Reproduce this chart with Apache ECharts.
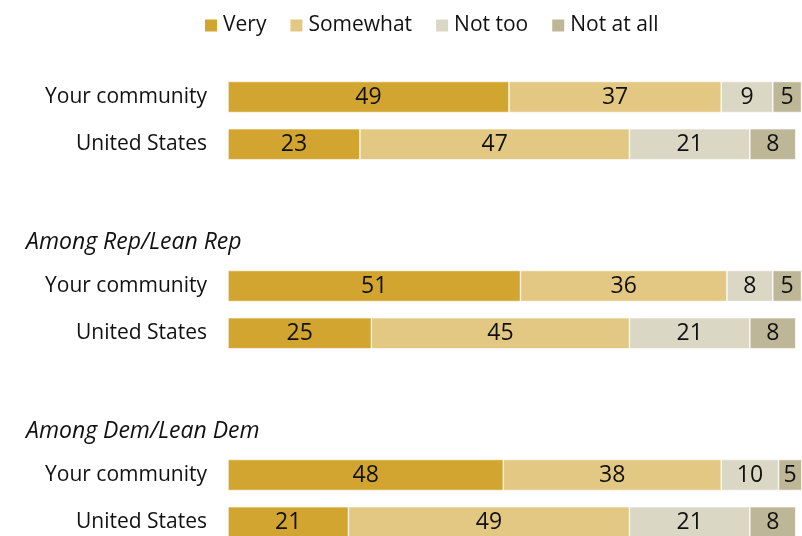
<!DOCTYPE html>
<html><head><meta charset="utf-8">
<script src="https://cdn.jsdelivr.net/npm/echarts@6/dist/echarts.min.js"></script>
<style>html,body{margin:0;padding:0;background:#fff}#c{width:802px;height:536px}</style>
</head><body><div id="c"></div>
<script>
const categories = ['Your community','United States','','Among Rep/Lean Rep','Your community','United States','','Among Dem/Lean Dem','Your community','United States'];
const headerRows = ['Among Rep/Lean Rep','Among Dem/Lean Dem'];
const seriesNames = ['Very','Somewhat','Not too','Not at all'];
const very =     [49,23,null,null,51,25,null,null,48,21];
const somewhat = [37,47,null,null,36,45,null,null,38,49];
const notToo =   [9,21,null,null,8,21,null,null,10,21];
const notAtAll = [5,8,null,null,5,8,null,null,5,8];
const colors = ['#D1A52F','#E2C883','#DAD7C5','#BEB797'];
const FONT = '"Open Sans","Liberation Sans",Arial,sans-serif';

const chart = echarts.init(document.getElementById('c'));
const mk = (name, data, i) => ({
  name, type:'bar', stack:'t', data, barWidth:31,
  itemStyle:{color:colors[i], borderColor:'#fff', borderWidth:0.6},
  label:{show:true, position:'inside', color:'#111', fontSize:23, fontFamily:FONT,
    formatter:p=>p.value==null?'':p.value},
  emphasis:{disabled:true}
});
chart.setOption({
  animation:false,
  textStyle:{fontFamily:FONT},
  legend:{top:10, left:198, icon:'rect', itemWidth:14, itemHeight:14, itemGap:22,
    textStyle:{fontSize:21, color:'#111', fontFamily:FONT}, data:seriesNames},
  grid:{left:228, top:97, width:573.5, height:425.25, containLabel:false},
  xAxis:{type:'value', min:0, max:100, show:false},
  yAxis:{type:'category', inverse:true, boundaryGap:false, data:categories,
    axisLine:{show:false}, axisTick:{show:false}, splitLine:{show:false},
    axisLabel:{margin:21, fontSize:21, color:'#111', fontFamily:FONT,
      formatter:v=> headerRows.includes(v) ? '{h|'+v+'}' : v,
      rich:{h:{width:181, align:'left', fontStyle:'italic', fontSize:23, color:'#111', fontFamily:FONT, padding:[8,0,0,0]}}}},
  series:[mk('Very',very,0),mk('Somewhat',somewhat,1),mk('Not too',notToo,2),mk('Not at all',notAtAll,3)]
});
</script></body></html>
